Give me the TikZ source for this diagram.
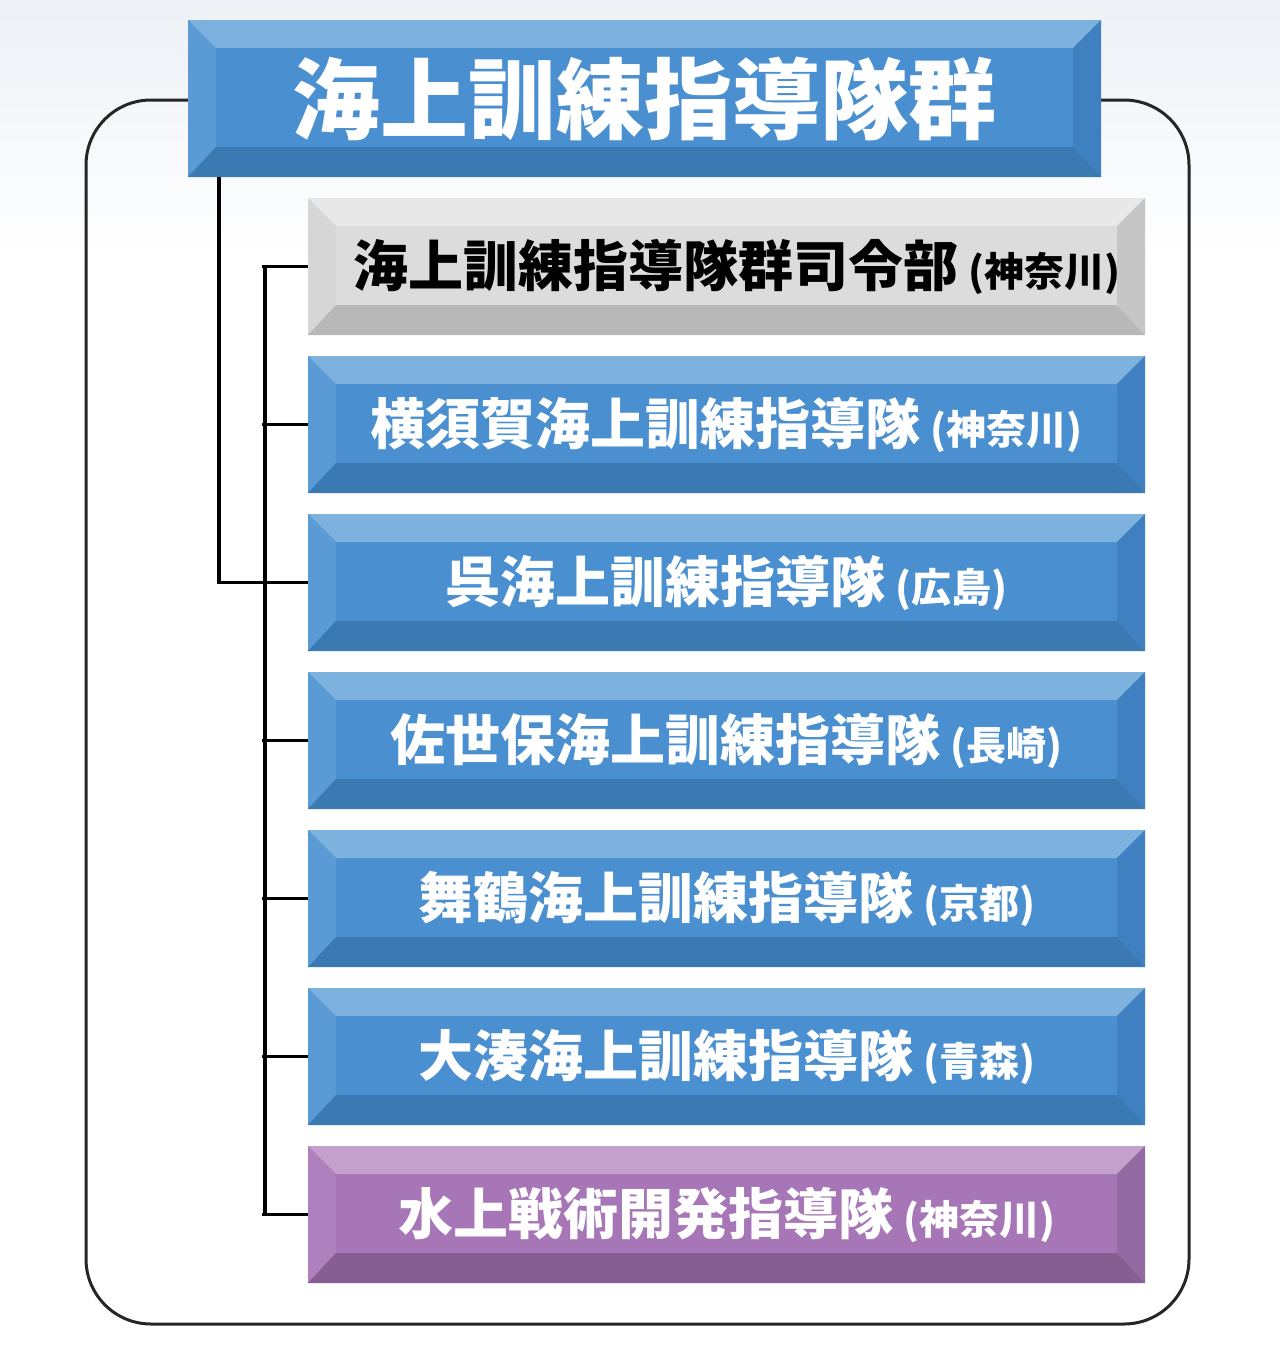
\documentclass[tikz,border=0pt]{standalone}
\usepackage{fontspec}
\newfontfamily\cjk{Noto Sans CJK JP}
\usetikzlibrary{positioning,calc}

\definecolor{fondo}{HTML}{EDF1F6}
\definecolor{azulM}{HTML}{4A8FD0}
\definecolor{azulC}{HTML}{7DB2DF}
\definecolor{azulI}{HTML}{5A9BD6}
\definecolor{azulO}{HTML}{3B79B2}
\definecolor{azulD}{HTML}{3F80C0}
\definecolor{grisM}{HTML}{DCDCDC}
\definecolor{grisC}{HTML}{E8E8E8}
\definecolor{grisI}{HTML}{D6D6D6}
\definecolor{grisO}{HTML}{B8B8B8}
\definecolor{grisD}{HTML}{C6C6C6}
\definecolor{moradoM}{HTML}{A676B7}
\definecolor{moradoC}{HTML}{C4A1CC}
\definecolor{moradoI}{HTML}{AE80BE}
\definecolor{moradoO}{HTML}{875E92}
\definecolor{moradoD}{HTML}{946AA2}

%Bisel: arriba, izquierda, abajo, derecha
\newcommand{\bisel}[4]{%
  \fill[#1] (path picture bounding box.north west) -- (path picture bounding box.north east)
    -- ([shift={(-14pt,-14pt)}]path picture bounding box.north east)
    -- ([shift={(14pt,-14pt)}]path picture bounding box.north west) -- cycle;
  \fill[#2] (path picture bounding box.north west) -- ([shift={(14pt,-14pt)}]path picture bounding box.north west)
    -- ([shift={(14pt,15pt)}]path picture bounding box.south west)
    -- (path picture bounding box.south west) -- cycle;
  \fill[#3] (path picture bounding box.south west) -- (path picture bounding box.south east)
    -- ([shift={(-14pt,15pt)}]path picture bounding box.south east)
    -- ([shift={(14pt,15pt)}]path picture bounding box.south west) -- cycle;
  \fill[#4] (path picture bounding box.north east) -- ([shift={(-14pt,-14pt)}]path picture bounding box.north east)
    -- ([shift={(-14pt,15pt)}]path picture bounding box.south east)
    -- (path picture bounding box.south east) -- cycle;
}
\newcommand{\lugar}[1]{\hspace{5pt}{\fontsize{20}{20}\selectfont(#1)}}

\tikzset{
  caja/.style={inner sep=0pt,outer sep=0pt,minimum width=418.5pt,minimum height=68.5pt,
    font=\cjk\bfseries\fontsize{27.5}{30}\selectfont},
  azul/.style={caja,fill=azulM,text=white,path picture={\bisel{azulC}{azulI}{azulO}{azulD}}},
  gris/.style={caja,fill=grisM,text=black,path picture={\bisel{grisC}{grisI}{grisO}{grisD}}},
  morado/.style={caja,fill=moradoM,text=white,path picture={\bisel{moradoC}{moradoI}{moradoO}{moradoD}}},
  enlace/.style={line width=1.75pt,black},
}

\begin{document}
\begin{tikzpicture}[x=0.5pt,y=-0.5pt]
    \useasboundingbox (0,0) rectangle (1280,1366);
    \shade[top color=fondo,bottom color=white] (0,0) rectangle (1280,260);

    %Marco
    \draw[line width=1.5pt,black!85,rounded corners=32.5pt] (86,100) rectangle (1189,1324);

    %Cajas
    \node[azul,minimum width=456.5pt,minimum height=78.5pt,
        font=\cjk\bfseries\fontsize{44}{44}\selectfont] (grupo) at (644.5,98.5) {海上訓練指導隊群};
    \node[gris] (mando) at (726.5,266.5) {\hspace{10pt}海上訓練指導隊群司令部\lugar{神奈川}};
    \node[azul,below=10.5pt of mando] (yokosuka) {横須賀海上訓練指導隊\lugar{神奈川}};
    \node[azul,below=10.5pt of yokosuka] (kure) {呉海上訓練指導隊\lugar{広島}};
    \node[azul,below=10.5pt of kure] (sasebo) {佐世保海上訓練指導隊\lugar{長崎}};
    \node[azul,below=10.5pt of sasebo] (maizuru) {舞鶴海上訓練指導隊\lugar{京都}};
    \node[azul,below=10.5pt of maizuru] (ominato) {大湊海上訓練指導隊\lugar{青森}};
    \node[morado,below=10.5pt of ominato] (suijo) {水上戦術開発指導隊\lugar{神奈川}};

    %Conectores
    \coordinate (bus) at ([xshift=-21.5pt]mando.west);
    \draw[enlace] ([xshift=15.5pt]grupo.south west) |- (kure.west);
    \draw[enlace] (bus) -- (bus |- suijo.west);
    \foreach \u in {mando,yokosuka,kure,sasebo,maizuru,ominato,suijo}{
        \draw[enlace] ([xshift=-1.5pt]bus |- \u.west) -- (\u.west);
    }
\end{tikzpicture}
\end{document}
